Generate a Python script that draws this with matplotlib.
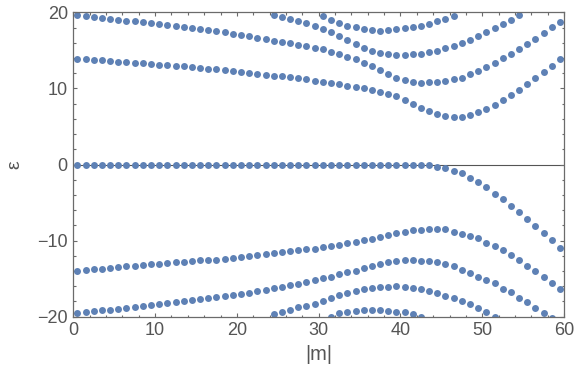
import numpy as np
import matplotlib
matplotlib.use("Agg")
import matplotlib.pyplot as plt
from matplotlib.ticker import MultipleLocator

nan = np.nan

# |m| takes half-integer values 0.5 ... 59.5
m_vals = [k + 0.5 for k in range(60)]

# energy branches (nan = outside the plot range)
p1 = [13.92, 13.87, 13.79, 13.75, 13.61, 13.52, 13.48, 13.39, 13.35, 13.26,
      13.13, 13.09, 13.00, 12.91, 12.82, 12.69,
      12.60, 12.50, 12.42, 12.34, 12.21, 12.08, 11.95, 11.82, 11.70, 11.60,
      11.50, 11.38, 11.18, 11.00, 10.85,
      10.77, 10.59, 10.37, 10.24, 10.07, 9.80, 9.58, 9.32, 8.97, 8.53,
      8.01, 7.48, 7.05, 6.70, 6.39,
      6.30, 6.30, 6.56, 6.91, 7.31, 7.88, 8.49, 9.19, 9.80, 10.59,
      11.42, 12.21, 13.00, 13.92]

p2 = [19.69, 19.52, 19.39, 19.26, 19.13, 19.00, 18.90, 18.84, 18.73, 18.60,
      18.47, 18.34, 18.21, 18.07, 17.94, 17.84,
      17.72, 17.56, 17.36, 17.18, 17.02, 16.87, 16.69, 16.52, 16.30, 16.12,
      15.96, 15.76, 15.57, 15.36, 15.16,
      14.79, 14.53, 14.14, 13.87, 13.40, 13.00, 12.43, 11.90, 11.38, 11.12,
      10.90, 10.77, 10.81, 10.90, 10.98,
      11.29, 11.42, 11.90, 12.34, 12.87, 13.39, 14.00, 14.53, 15.19, 15.84,
      16.54, 17.33, 18.12, 18.77]

p3 = [nan] * 24 + \
     [19.69, 19.39, 19.13, 18.86, 18.64, 18.21, 17.86,
      17.46, 16.94, 16.41, 15.84, 15.32, 14.92, 14.66, 14.53, 14.40, 14.40,
      14.53, 14.53, 14.79, 14.92, 15.32,
      15.58, 16.02, 16.41, 16.89, 17.42, 17.94, 18.47, 18.99, 19.69] + [nan] * 5

p4 = [nan] * 30 + \
     [19.52, 19.04, 18.64, 18.21, 18.05, 17.86, 17.72, 17.59, 17.72, 17.86,
      17.99, 18.12, 18.21, 18.51, 18.91, 19.17, 19.52] + [nan] * 13

z0 = [0.0] * 43 + \
     [-0.13, -0.31, -0.44,
      -0.79, -1.18, -1.71, -2.36, -3.02, -3.85, -4.60, -5.51, -6.30, -7.22,
      -8.14, -9.06, -9.98, -10.94]

n1 = [-13.96, -13.87, -13.79, -13.68, -13.62, -13.52, -13.39, -13.33, -13.22, -13.13,
      -13.04, -12.91, -12.82, -12.76, -12.69, -12.62,
      -12.58, -12.50, -12.39, -12.25, -12.14, -12.04, -11.92, -11.81, -11.68, -11.55,
      -11.42, -11.29, -11.16, -11.05, -10.90,
      -10.68, -10.52, -10.37, -10.22, -9.98, -9.74, -9.55, -9.28, -9.02, -8.84,
      -8.66, -8.55, -8.53, -8.53, -8.53,
      -8.84, -9.10, -9.37, -9.72, -10.27, -10.77, -11.29, -11.90, -12.60, -13.39,
      -14.00, -14.84, -15.62, -16.41]

n2 = [-19.47, -19.39, -19.26, -19.17, -19.08, -18.99, -18.86, -18.73, -18.60, -18.51,
      -18.38, -18.25, -18.12, -17.99, -17.86, -17.72,
      -17.62, -17.46, -17.33, -17.16, -16.98, -16.85, -16.65, -16.50, -16.30, -16.13,
      -15.90, -15.73, -15.49, -15.23, -14.97,
      -14.75, -14.44, -14.18, -13.96, -13.65, -13.32, -13.10, -12.87, -12.69, -12.60,
      -12.60, -12.65, -12.69, -12.87, -13.13,
      -13.39, -13.83, -14.22, -14.75, -15.18, -15.62, -16.33, -16.80, -17.51, -18.11,
      -18.82, -19.48, -20.15, nan]

n3 = [nan] * 24 + \
     [-19.69, -19.43, -19.12, -18.77, -18.56, -18.29, -17.94,
      -17.59, -17.20, -16.89, -16.63, -16.37, -16.24, -16.11, -16.06, -16.02, -16.15,
      -16.28, -16.41, -16.67, -16.89, -17.24,
      -17.59, -17.99, -18.38, -18.91, -19.40, -20.0] + [nan] * 8

n4 = [nan] * 31 + \
     [-20.1, -19.52, -19.34, -19.26, -19.17, -19.17, -19.17, -19.26, -19.34, -19.43,
      -19.61, -20.1] + [nan] * 17

branches = [p1, p2, p3, p4, z0, n1, n2, n3, n4]

dot_color = "#5e81b5"
frame_color = "#6b6b6b"
text_color = "#555555"

plt.rcParams["font.family"] = ["Liberation Sans", "DejaVu Sans"]

fig = plt.figure(figsize=(5.76, 3.76), dpi=100)
ax = fig.add_axes([0.1273, 0.158, 0.852, 0.809])

ax.axhline(0, color="#555555", lw=0.8, zorder=1)
for b in branches:
    ax.plot(m_vals, b, "o", color=dot_color, ms=5.0, mew=0, zorder=2)

ax.set_xlim(0, 60)
ax.set_ylim(-20, 20)
ax.xaxis.set_major_locator(MultipleLocator(10))
ax.xaxis.set_minor_locator(MultipleLocator(2))
ax.yaxis.set_major_locator(MultipleLocator(10))
ax.yaxis.set_minor_locator(MultipleLocator(2))
ax.tick_params(which="both", direction="in", top=True, right=True,
               color=frame_color, width=0.8)
ax.tick_params(which="major", length=3.2, labelsize=13, labelcolor=text_color, pad=4)
ax.tick_params(which="minor", length=1.8)
for s in ax.spines.values():
    s.set_color(frame_color)
    s.set_linewidth(0.9)

ax.set_xlabel("|m|", fontsize=14.5, color=text_color, labelpad=4)
ax.set_ylabel("ε", fontsize=14, color=text_color, labelpad=10)

fig.savefig("out.png", dpi=100)
